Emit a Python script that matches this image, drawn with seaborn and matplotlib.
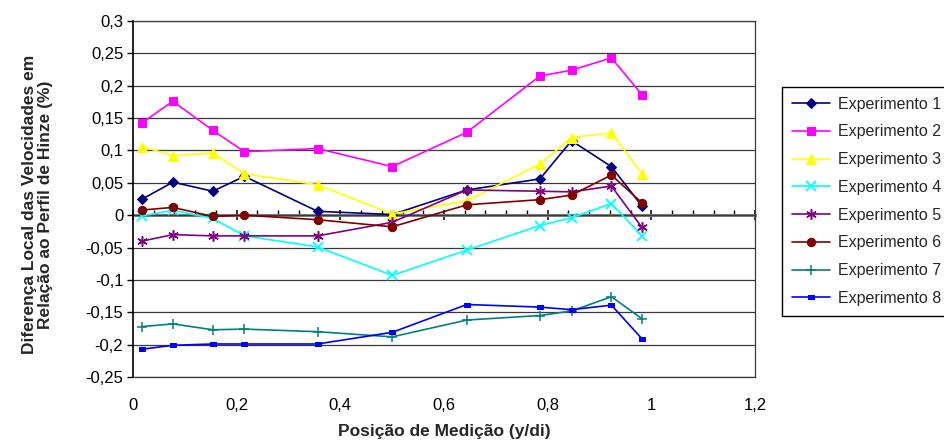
import matplotlib
matplotlib.use("Agg")
import matplotlib.pyplot as plt
from matplotlib.path import Path
from matplotlib.ticker import FuncFormatter, MultipleLocator
import numpy as np
import pandas as pd
import seaborn as sns

# Measurement positions (y/di)
posicao = [0.018, 0.077, 0.154, 0.215, 0.356, 0.5, 0.644, 0.785, 0.846, 0.923, 0.982]

exp1 = [0.025, 0.051, 0.037, 0.060, 0.006, 0.001, 0.039, 0.056, 0.115, 0.075, 0.014]
exp2 = [0.143, 0.176, 0.131, 0.098, 0.103, 0.075, 0.128, 0.215, 0.224, 0.243, 0.186]
exp3 = [0.106, 0.092, 0.096, 0.064, 0.047, 0.002, 0.022, 0.079, 0.120, 0.127, 0.064]
exp4 = [-0.001, 0.0075, -0.005, -0.032, -0.049, -0.093, -0.054, -0.016, -0.004, 0.018, -0.032]
exp5 = [-0.040, -0.030, -0.032, -0.032, -0.032, -0.011, 0.039, 0.037, 0.036, 0.045, -0.019]
exp6 = [0.008, 0.012, -0.002, 0.000, -0.007, -0.018, 0.016, 0.024, 0.031, 0.062, 0.019]
exp7 = [-0.172, -0.168, -0.177, -0.176, -0.180, -0.188, -0.162, -0.155, -0.148, -0.126, -0.160]
exp8 = [-0.207, -0.201, -0.199, -0.199, -0.199, -0.181, -0.138, -0.142, -0.146, -0.139, -0.191]

nomes = ["Experimento 1", "Experimento 2", "Experimento 3", "Experimento 4",
         "Experimento 5", "Experimento 6", "Experimento 7", "Experimento 8"]
series = [exp1, exp2, exp3, exp4, exp5, exp6, exp7, exp8]

x_ticks = [0, 0.2, 0.4, 0.6, 0.8, 1.0, 1.2]
y_ticks = [-0.25, -0.2, -0.15, -0.1, -0.05, 0, 0.05, 0.1, 0.15, 0.2, 0.25, 0.3]

sns.set_theme(style="white")
plt.rcParams["font.family"] = ["Liberation Sans", "DejaVu Sans"]

# marker styles per experiment
dash = Path([(-1, -0.45), (1, -0.45), (1, 0.45), (-1, 0.45), (-1, -0.45)],
            [Path.MOVETO, Path.LINETO, Path.LINETO, Path.LINETO, Path.CLOSEPOLY])
estilos = [
    dict(color="#000080", marker="D", markersize=5.5),
    dict(color="#FF00FF", marker="s", markersize=6),
    dict(color="#FFFF00", marker="^", markersize=7.5),
    dict(color="#00FFFF", marker="x", markersize=6.5, markeredgewidth=1.3),
    dict(color="#800080", marker=(6, 2, 0), markersize=7.5, markeredgewidth=1.1),
    dict(color="#800000", marker="o", markersize=6),
    dict(color="#008080", marker="+", markersize=7.5, markeredgewidth=1.1),
    dict(color="#0000FF", marker=dash, markersize=5),
]

df = pd.DataFrame({"pos": np.tile(posicao, len(series)),
                   "dif": np.concatenate(series),
                   "exp": np.repeat(nomes, len(posicao))})

fig = plt.figure(figsize=(9.45, 4.43), dpi=100)
ax = fig.add_axes([133 / 945, 1 - 377 / 443, 622 / 945, 356 / 443])

for nome, st in zip(nomes, estilos):
    sub = df[df["exp"] == nome]
    sns.lineplot(data=sub, x="pos", y="dif", ax=ax, label=nome, sort=False,
                 estimator=None, linewidth=1.2, markeredgecolor=st["color"],
                 markerfacecolor=st["color"], **st)

ymin, ymax = -0.25, 0.3
ax.set_xlim(0, 1.2)
ax.set_ylim(ymin, ymax)
ax.set_xticks(x_ticks)
ax.set_yticks(y_ticks)


def virgula(v, _pos=None):
    v = round(v, 3)
    if abs(v) < 1e-9:
        return "0"
    return f"{v:g}".replace(".", ",")


ax.xaxis.set_major_formatter(FuncFormatter(virgula))
ax.yaxis.set_major_formatter(FuncFormatter(virgula))
ax.yaxis.grid(True, color="#3a3a3a", linewidth=0.9)
ax.xaxis.grid(False)
ax.set_axisbelow(True)

for s in ["left", "right", "top", "bottom"]:
    ax.spines[s].set_visible(True)
    ax.spines[s].set_color("#3a3a3a")
    ax.spines[s].set_linewidth(0.9)
ax.spines["left"].set_color("black")
ax.spines["left"].set_linewidth(1.2)

ax.tick_params(axis="x", length=0, pad=15, labelsize=12, colors="black")
ax.tick_params(axis="y", left=True, length=4, width=1, direction="out",
               pad=3, labelsize=12, colors="black")

# horizontal axis drawn through zero, with major and minor ticks
sec = ax.secondary_xaxis((0 - ymin) / (ymax - ymin))
sec.set_xticks(x_ticks)
sec.xaxis.set_minor_locator(MultipleLocator(0.04))
sec.tick_params(which="major", direction="inout", length=7, width=1.1,
                color="black", labelbottom=False)
sec.tick_params(which="minor", direction="in", length=3.5, width=1,
                color="black", bottom=True)
sec.spines["bottom"].set_color("#808080")
sec.spines["bottom"].set_linewidth(2.2)

ax.set_xlabel("Posição de Medição (y/di)", fontsize=12.5, fontweight="bold", labelpad=8)
ax.set_ylabel("Diferença Local das Velocidades em\nRelação ao Perfil de Hinze (%)",
              fontsize=12.5, fontweight="bold", linespacing=1.1)
ax.yaxis.set_label_coords(-0.128, 0.485)

handles, labels = ax.get_legend_handles_labels()
ax.get_legend().remove()
leg = fig.legend(handles, labels, loc="upper left",
                 bbox_to_anchor=(782 / 945, 1 - 87 / 443), borderaxespad=0,
                 fontsize=11.5, frameon=True, fancybox=False, framealpha=1,
                 edgecolor="black", handlelength=2.4, labelspacing=0.8,
                 borderpad=0.6, handletextpad=0.5)
leg.get_frame().set_linewidth(1)

fig.savefig("out.png", dpi=100)
